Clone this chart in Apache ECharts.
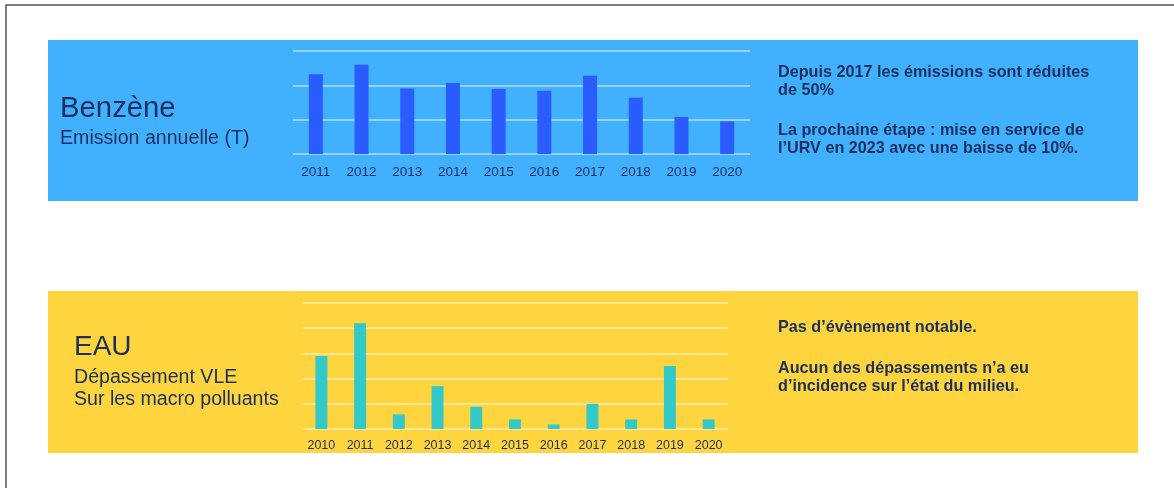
<!DOCTYPE html>
<html>
<head>
<meta charset="utf-8">
<script src="https://cdn.jsdelivr.net/npm/echarts@6/dist/echarts.min.js"></script>
<style>
  html, body { margin: 0; padding: 0; background: #fff; }
  #main { width: 1174px; height: 488px; }
</style>
</head>
<body>
<div id="main"></div>
<script>
// Benzène : émission annuelle (T)
const benzeneYears = ['2011', '2012', '2013', '2014', '2015', '2016', '2017', '2018', '2019', '2020']
const benzeneValues = [2.32, 2.6, 1.91, 2.07, 1.89, 1.84, 2.28, 1.64, 1.08, 0.95]

// Eau : dépassements VLE
const eauYears = ['2010', '2011', '2012', '2013', '2014', '2015', '2016', '2017', '2018', '2019', '2020']
const eauValues = [14.5, 21, 2.9, 8.5, 4.4, 1.9, 0.9, 5, 1.9, 12.5, 1.9]

const FONT = "'Liberation Sans', Arial, sans-serif"
const NAVY = '#1c2f5e'

function txt(x, y, text, size, weight, lh) {
    return {
        type: 'text',
        z: 10,
        style: {
            x: x,
            y: y,
            text: text,
            fill: NAVY,
            font: (weight || 'normal') + ' ' + size + 'px ' + FONT,
            lineHeight: lh || size,
            verticalAlign: 'top'
        }
    }
}

const chart = echarts.init(document.getElementById('main'))

const option = {
    backgroundColor: '#fff',
    animation: false,
    graphic: [
        // cadre de la page
        { type: 'rect', z: -10, shape: { x: 6, y: 5, width: 1300, height: 600 }, style: { fill: 'none', stroke: '#555', lineWidth: 1.5 } },
        // panneaux
        { type: 'rect', z: -10, shape: { x: 48, y: 40, width: 1090, height: 161 }, style: { fill: '#41b1ff' } },
        { type: 'rect', z: -10, shape: { x: 48, y: 291, width: 1090, height: 162 }, style: { fill: '#ffd53f' } },
        // textes gauche
        txt(60, 94, 'Benzène', 29.3),
        txt(60, 129, 'Emission annuelle (T)', 19.6),
        txt(74, 333, 'EAU', 28),
        txt(74, 367, 'Dépassement VLE\nSur les macro polluants', 19.6, 'normal', 21.6),
        // textes droite
        txt(778, 64, 'Depuis 2017 les émissions sont réduites\nde 50%', 16.2, 'bold', 18),
        txt(778, 122, 'La prochaine étape : mise en service de\nl’URV en 2023 avec une baisse de 10%.', 16.2, 'bold', 17.5),
        txt(778, 319, 'Pas d’évènement notable.', 16.2, 'bold', 18),
        txt(778, 359, 'Aucun des dépassements n’a eu\nd’incidence sur l’état du milieu.', 16.2, 'bold', 18.5)
    ],
    grid: [
        { left: 293, top: 51, width: 457, height: 103 },
        { left: 302, top: 303, width: 426, height: 126 }
    ],
    xAxis: [
        {
            type: 'category',
            gridIndex: 0,
            data: benzeneYears,
            axisLine: { show: false },
            axisTick: { show: false },
            axisLabel: { color: NAVY, fontSize: 13.5, fontFamily: FONT, margin: 11 }
        },
        {
            type: 'category',
            gridIndex: 1,
            data: eauYears,
            axisLine: { show: false },
            axisTick: { show: false },
            axisLabel: { color: NAVY, fontSize: 12.5, fontFamily: FONT, margin: 10 }
        }
    ],
    yAxis: [
        {
            type: 'value',
            gridIndex: 0,
            min: 0,
            max: 3,
            interval: 1,
            axisLabel: { show: false },
            splitLine: { lineStyle: { color: 'rgba(255,255,255,0.6)', width: 1.5 } }
        },
        {
            type: 'value',
            gridIndex: 1,
            min: 0,
            max: 25,
            interval: 5,
            axisLabel: { show: false },
            splitLine: { lineStyle: { color: 'rgba(255,255,255,0.6)', width: 1.5 } }
        }
    ],
    series: [
        {
            type: 'bar',
            xAxisIndex: 0,
            yAxisIndex: 0,
            data: benzeneValues,
            barWidth: 14,
            itemStyle: { color: '#2b5cff' },
            z: 5
        },
        {
            type: 'bar',
            xAxisIndex: 1,
            yAxisIndex: 1,
            data: eauValues,
            barWidth: 12,
            itemStyle: { color: '#33c9c9' },
            z: 5
        }
    ]
}

chart.setOption(option)
</script>
</body>
</html>
